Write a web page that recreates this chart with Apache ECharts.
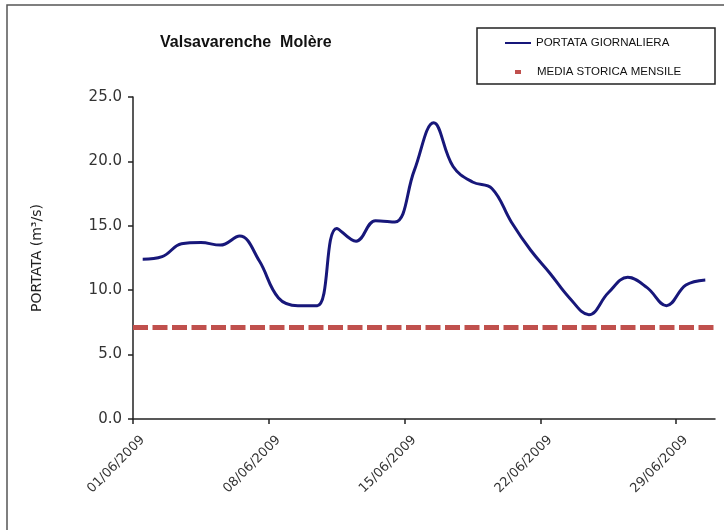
<!DOCTYPE html>
<html>
<head>
<meta charset="utf-8">
<script src="https://cdn.jsdelivr.net/npm/echarts@6/dist/echarts.min.js"></script>
<style>
  html, body { margin: 0; padding: 0; background: #fff; }
  #chart { width: 724px; height: 530px; }
</style>
</head>
<body>
<div id="chart"></div>
<script>
// giorni di giugno 2009
const days = [
  '01/06/2009', '02/06/2009', '03/06/2009', '04/06/2009', '05/06/2009',
  '06/06/2009', '07/06/2009', '08/06/2009', '09/06/2009', '10/06/2009',
  '11/06/2009', '12/06/2009', '13/06/2009', '14/06/2009', '15/06/2009',
  '16/06/2009', '17/06/2009', '18/06/2009', '19/06/2009', '20/06/2009',
  '21/06/2009', '22/06/2009', '23/06/2009', '24/06/2009', '25/06/2009',
  '26/06/2009', '27/06/2009', '28/06/2009', '29/06/2009', '30/06/2009'
]
const tickDays = ['01/06/2009', '08/06/2009', '15/06/2009', '22/06/2009', '29/06/2009']
// portata giornaliera (m3/s)
const portata = [
  12.4, 12.6, 13.6, 13.7, 13.5, 14.2, 12.3, 9.4, 8.8, 8.8,
  14.8, 13.8, 15.4, 15.3, 19.3, 23.0, 19.6, 18.4, 17.9, 15.3,
  13.1, 11.3, 9.4, 8.1, 9.8, 11.0, 10.2, 8.8, 10.4, 10.8
]
const mediaMensile = 7.1
const yTicks = { min: 0, max: 25, interval: 5 }

const tickPos = tickDays.map(d => days.indexOf(d))

const chart = echarts.init(document.getElementById('chart'))
chart.setOption({
  backgroundColor: '#ffffff',
  animation: false,
  title: {
    text: 'Valsavarenche  Molère',
    left: 155,
    top: 30,
    textStyle: {
      fontFamily: 'Liberation Sans',
      fontSize: 16,
      fontWeight: 'bold',
      color: '#111'
    }
  },
  legend: [{
    data: [{ name: 'PORTATA GIORNALIERA', icon: 'rect' }],
    left: 505,
    top: 37,
    padding: 0,
    itemWidth: 26,
    itemHeight: 2,
    itemGap: 0,
    selectedMode: false,
    textStyle: { fontFamily: 'Liberation Sans', fontSize: 11.5, color: '#111' }
  }, {
    data: [{ name: 'MEDIA STORICA MENSILE', icon: 'rect' }],
    left: 515,
    top: 66,
    padding: 0,
    itemWidth: 6,
    itemHeight: 4,
    itemGap: 0,
    selectedMode: false,
    textStyle: { fontFamily: 'Liberation Sans', fontSize: 11.5, color: '#111', padding: [0, 0, 0, 11] }
  }],
  graphic: [{
    type: 'rect',
    shape: { x: 7, y: 5, width: 760, height: 560 },
    style: { fill: 'none', stroke: '#555', lineWidth: 1.5 },
    silent: true
  }, {
    type: 'rect',
    shape: { x: 477, y: 28, width: 238, height: 56 },
    style: { fill: 'none', stroke: '#222', lineWidth: 1.5 },
    silent: true
  }],
  grid: {
    left: 133,
    right: 9,
    top: 97,
    bottom: 111,
    containLabel: false
  },
  xAxis: {
    type: 'value',
    min: 0,
    max: days.length,
    splitLine: { show: false },
    axisLine: { lineStyle: { color: '#222', width: 1.5 } },
    axisTick: {
      length: 5,
      customValues: tickPos,
      lineStyle: { color: '#222', width: 1.5 }
    },
    axisLabel: {
      customValues: tickPos.map(p => p + 0.5),
      formatter: v => days[Math.floor(v)],
      rotate: 45,
      margin: 19,
      fontFamily: 'DejaVu Sans',
      fontSize: 13,
      color: '#333'
    }
  },
  yAxis: {
    type: 'value',
    min: yTicks.min,
    max: yTicks.max,
    interval: yTicks.interval,
    name: 'PORTATA (m³/s)',
    nameLocation: 'middle',
    nameGap: 89,
    nameTextStyle: { fontFamily: 'DejaVu Sans', fontSize: 14, color: '#222' },
    splitLine: { show: false },
    axisLine: { show: true, lineStyle: { color: '#222', width: 1.5 } },
    axisTick: { show: true, length: 5, lineStyle: { color: '#222', width: 1.5 } },
    axisLabel: {
      formatter: v => v.toFixed(1),
      margin: 11,
      fontFamily: 'DejaVu Sans',
      fontSize: 15,
      color: '#333'
    }
  },
  series: [{
    name: 'PORTATA GIORNALIERA',
    type: 'line',
    data: portata.map((v, i) => [i + 0.5, v]),
    smooth: 0.4,
    showSymbol: false,
    color: '#17177a',
    lineStyle: { color: '#17177a', width: 3 },
    z: 3
  }, {
    name: 'MEDIA STORICA MENSILE',
    type: 'line',
    data: [[0, mediaMensile], [days.length, mediaMensile]],
    showSymbol: false,
    color: '#c0504d',
    lineStyle: { color: '#c0504d', width: 5, type: [15, 4.5] },
    z: 2
  }]
})
</script>
</body>
</html>
